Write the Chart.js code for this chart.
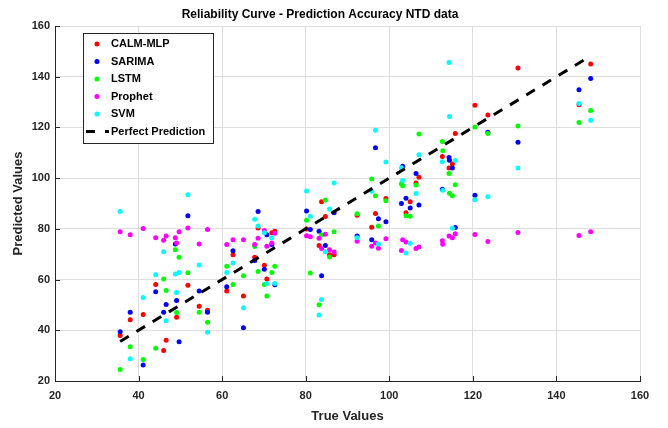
<!DOCTYPE html>
<html>
<head>
<meta charset="utf-8">
<title>Reliability Curve - Prediction Accuracy NTD data</title>
<script src="https://cdn.jsdelivr.net/npm/chart.js@4.4.1/dist/chart.umd.min.js"></script>
<style>
    html, body { margin: 0; padding: 0; background: #fff; }
    #wrap { width: 668px; height: 428px; }
</style>
</head>
<body>
<div id="wrap"><canvas id="reliabilityChart" width="668" height="428"></canvas></div>
<script>
// true values (x) shared by every model
const trueValues = [35.6, 38.0, 41.1, 44.1, 46.0, 46.6, 48.8, 49.1, 49.7, 51.8,
    54.5, 56.5, 61.1, 62.6, 65.1, 67.8, 68.6, 70.1, 70.7, 71.9,
    72.6, 80.2, 81.1, 83.2, 83.8, 84.7, 85.7, 86.8, 92.3, 95.8,
    96.7, 97.4, 99.2, 102.9, 103.2, 104.0, 105.0, 106.4, 107.1, 112.7,
    112.8, 114.3, 114.4, 115.1, 115.8, 120.5, 123.6, 130.8, 145.4, 148.2];

// predicted values per model (null = point hidden / not readable)
const calmMlp = [37.9, 44.2, 46.2, 58.1, 32.0, 36.1, null, 45.1, null, 57.8,
    49.5, 47.9, 55.5, 69.8, 53.5, 68.8, 80.3, 65.6, 60.2, 78.5,
    79.1, 79.9, null, 73.4, 90.7, 84.9, 69.8, 69.8, 85.4, 80.6,
    86.1, null, 92.0, null, null, 86.4, 90.7, 98.1, 100.4, 108.5,
    null, 104.0, null, 105.6, 117.6, 128.7, 124.9, 143.4, 128.9, 145.0];
const sarima = [39.4, 47.1, 26.3, 55.2, 47.1, 50.2, 74.0, 51.7, 35.5, 85.2,
    55.5, 47.1, 57.2, 71.4, 41.0, 67.5, 86.8, 64.1, 77.7, 73.8,
    58.0, 87.0, 79.7, 79.1, 61.5, 73.4, null, 86.4, 77.2, 75.7,
    112.0, 84.0, 82.8, 90.0, 104.7, 92.1, 88.2, 101.8, 89.4, 95.6,
    null, 108.1, 107.1, 104.0, 80.5, 93.3, 118.1, 114.2, 134.9, 139.3];
const lstm = [24.5, 33.5, 28.5, 32.9, 60.2, 55.7, 71.8, 47.0, 68.8, 62.7,
    47.1, 43.2, 65.3, 58.1, 61.5, 73.0, 63.2, 58.1, 53.5, 62.8,
    65.3, 83.4, 62.6, 50.1, 77.6, 91.4, 68.9, 78.9, 86.0, 99.7,
    93.1, 81.1, 91.1, 97.8, 97.0, 85.2, 85.0, 97.3, 117.4, 114.5,
    110.8, 101.8, 94.0, 93.1, 97.4, 120.2, 117.6, 120.6, 121.9, 126.7];
const prophet = [78.9, 77.7, 80.1, 76.5, 75.5, 77.2, 76.5, 74.4, 78.9, 80.3,
    74.0, 79.7, 73.8, 75.7, 75.7, 73.8, 76.3, 79.4, 73.1, 74.4,
    78.3, 77.3, 76.9, 76.3, 72.3, 77.9, 71.8, 70.9, 75.1, 73.1,
    74.4, 72.4, 76.1, 71.5, 75.7, 74.8, null, 72.3, 72.8, 75.3,
    73.9, 77.2, null, 76.5, 78.1, 77.8, 75.0, 78.6, 77.4, 78.9];
const svm = [86.8, 28.8, 52.9, 61.9, 71.0, 43.8, 62.2, 54.9, 62.8, 93.5,
    65.7, 39.2, 62.8, 66.5, 48.9, 83.8, 81.1, 78.5, 58.5, 76.5,
    58.5, 94.9, 85.0, 46.0, 52.1, 71.0, 87.8, 98.1, 76.5, 94.8,
    118.9, 74.0, 106.4, 104.1, 99.1, 70.5, 74.3, 93.9, 109.2, 106.5,
    95.2, 145.6, 124.3, 80.2, 107.0, 91.5, 92.7, 104.0, 129.4, 122.8];

const xTicks = [20, 40, 60, 80, 100, 120, 140, 160];
const yTicks = [20, 40, 60, 80, 100, 120, 140, 160];

const FONT = '"Liberation Sans", Arial, Helvetica, sans-serif';

function toPoints(values) {
    return trueValues
        .map((x, i) => ({ x: x, y: values[i] }))
        .filter(p => p.y !== null);
}

const lo = Math.min(...trueValues);
const hi = Math.max(...trueValues);

// ticks pointing into the plot, like the original
const innerTicks = {
    id: 'innerTicks',
    afterDatasetsDraw(chart) {
        const { ctx, chartArea: a, scales: { x, y } } = chart;
        ctx.save();
        ctx.strokeStyle = '#262626';
        ctx.lineWidth = 1;
        ctx.beginPath();
        xTicks.forEach(v => {
            const px = Math.round(x.getPixelForValue(v)) + 0.5;
            ctx.moveTo(px, a.bottom);
            ctx.lineTo(px, a.bottom - 5);
        });
        yTicks.forEach(v => {
            const py = Math.round(y.getPixelForValue(v)) + 0.5;
            ctx.moveTo(a.left, py);
            ctx.lineTo(a.left + 5, py);
        });
        ctx.stroke();
        ctx.restore();
    }
};

// boxed legend in the upper left corner of the plot
const boxLegend = {
    id: 'boxLegend',
    afterDraw(chart) {
        const ctx = chart.ctx;
        const a = chart.chartArea;
        const x0 = a.left + 28, y0 = a.top + 7, w = 130, h = 110, rowH = 17.5;
        ctx.save();
        ctx.fillStyle = '#fff';
        ctx.fillRect(x0, y0, w, h);
        ctx.strokeStyle = '#262626';
        ctx.lineWidth = 1;
        ctx.strokeRect(x0 + 0.5, y0 + 0.5, w, h);
        ctx.font = 'bold 11px ' + FONT;
        ctx.textBaseline = 'middle';
        chart.data.datasets.forEach((ds, i) => {
            const cy = y0 + 11 + i * rowH;
            if (ds.showLine) {
                ctx.strokeStyle = ds.borderColor;
                ctx.lineWidth = ds.borderWidth;
                ctx.setLineDash([9, 10]);
                ctx.beginPath();
                ctx.moveTo(x0 + 3, cy);
                ctx.lineTo(x0 + 26, cy);
                ctx.stroke();
                ctx.setLineDash([]);
            } else {
                ctx.fillStyle = ds.backgroundColor;
                ctx.beginPath();
                ctx.arc(x0 + 14, cy, 2.5, 0, Math.PI * 2);
                ctx.fill();
            }
            ctx.fillStyle = '#000';
            ctx.fillText(ds.label, x0 + 28, cy);
        });
        ctx.restore();
    }
};

function scatterSet(label, values, color, order) {
    return {
        label: label,
        data: toPoints(values),
        backgroundColor: color,
        borderColor: color,
        borderWidth: 0,
        pointRadius: 2.5,
        pointHoverRadius: 2.5,
        order: order
    };
}

const ctx = document.getElementById('reliabilityChart').getContext('2d');

const chart = new Chart(ctx, {
    type: 'scatter',
    data: {
        datasets: [
            scatterSet('CALM-MLP', calmMlp, '#ff0000', 6),
            scatterSet('SARIMA', sarima, '#0000ff', 5),
            scatterSet('LSTM', lstm, '#00ff00', 4),
            scatterSet('Prophet', prophet, '#ff00ff', 3),
            scatterSet('SVM', svm, '#00ffff', 2),
            {
                label: 'Perfect Prediction',
                data: [{ x: lo, y: lo }, { x: hi, y: hi }],
                showLine: true,
                borderColor: '#000',
                borderWidth: 3,
                borderDash: [10, 9],
                borderCapStyle: 'butt',
                pointRadius: 0,
                order: 1
            }
        ]
    },
    options: {
        responsive: false,
        animation: false,
        devicePixelRatio: 1,
        layout: { padding: { top: 0, right: 28, bottom: 0, left: 0 } },
        plugins: {
            legend: { display: false },
            tooltip: { enabled: false },
            title: {
                display: true,
                text: 'Reliability Curve - Prediction Accuracy NTD data',
                color: '#000',
                font: { family: FONT, size: 12, weight: 'bold' },
                padding: { top: 7.5, bottom: 4.1 }
            }
        },
        scales: {
            x: {
                type: 'linear',
                min: 20,
                max: 160,
                afterBuildTicks: s => { s.ticks = xTicks.map(v => ({ value: v })); },
                afterFit: s => { s.height = 47; },
                grid: { color: '#dedede', lineWidth: 1, drawTicks: false },
                border: { color: '#262626', width: 1 },
                ticks: {
                    color: '#262626',
                    padding: 8,
                    maxRotation: 0,
                    font: { family: FONT, size: 11, weight: 'bold' }
                },
                title: {
                    display: true,
                    text: 'True Values',
                    color: '#262626',
                    font: { family: FONT, size: 13, weight: 'bold' },
                    padding: { top: 0, bottom: 4 }
                }
            },
            y: {
                type: 'linear',
                min: 20,
                max: 160,
                afterBuildTicks: s => { s.ticks = yTicks.map(v => ({ value: v })); },
                afterFit: s => { s.width = 55; },
                grid: { color: '#dedede', lineWidth: 1, drawTicks: false },
                border: { color: '#262626', width: 1 },
                ticks: {
                    color: '#262626',
                    padding: 5,
                    font: { family: FONT, size: 11, weight: 'bold' }
                },
                title: {
                    display: true,
                    text: 'Predicted Values',
                    color: '#262626',
                    font: { family: FONT, size: 13, weight: 'bold' },
                    padding: { top: 11, bottom: 0 }
                }
            }
        }
    },
    plugins: [innerTicks, boxLegend]
});
</script>
</body>
</html>
